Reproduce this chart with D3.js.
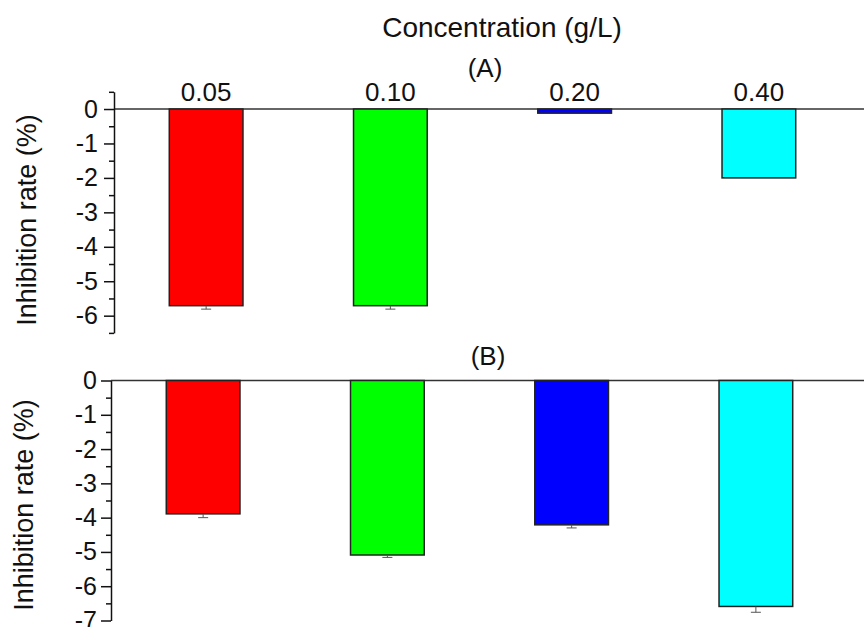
<!DOCTYPE html>
<html>
<head>
<meta charset="utf-8">
<script src="https://cdn.jsdelivr.net/npm/d3@7"></script>
<style>
  body { margin: 0; background: #fff; }
  text { font-family: "Liberation Sans", Arial, sans-serif; fill: #111; }
</style>
</head>
<body>
<script>
// data
var categories = ["0.05", "0.10", "0.20", "0.40"];
var colors = ["#ff0000", "#00ff00", "#0000ff", "#00ffff"];
var valuesA = [-5.71, -5.71, -0.12, -2.0];
var errorsA = [0.1, 0.1, 0.0, 0.0];
var valuesB = [-3.89, -5.09, -4.21, -6.59];
var errorsB = [0.11, 0.07, 0.09, 0.17];
var ticksA = [0, -1, -2, -3, -4, -5, -6];
var minorA = [0.5, -0.5, -1.5, -2.5, -3.5, -4.5, -5.5, -6.5];
var ticksB = [0, -1, -2, -3, -4, -5, -6, -7];
var minorB = [-0.5, -1.5, -2.5, -3.5, -4.5, -5.5, -6.5];

var svgWidth = 868;
var svgHeight = 627;

var svg = d3.select("body")
	.append("svg")
	.attr("width", svgWidth)
	.attr("height", svgHeight);

// title
svg.append("text")
	.attr("x", 502)
	.attr("y", 37)
	.attr("text-anchor", "middle")
	.style("font-size", "28px")
	.text("Concentration (g/L)");

function drawPanel(opts) {
	var x = d3.scaleBand()
		.domain(categories)
		.range([opts.left, opts.right])
		.paddingInner(0.6)
		.paddingOuter(0.3);

	var y = d3.scaleLinear()
		.domain(opts.domain)
		.range(opts.yRange);

	var g = svg.append("g");

	// zero line across the panel
	g.append("line")
		.attr("x1", opts.left)
		.attr("x2", 864)
		.attr("y1", y(0))
		.attr("y2", y(0))
		.attr("stroke", "#333")
		.attr("stroke-width", 1.5);

	// bars
	g.selectAll("rect.bar")
		.data(opts.values)
		.enter()
		.append("rect")
		.attr("class", "bar")
		.attr("x", (d, i) => x(categories[i]))
		.attr("width", x.bandwidth())
		.attr("y", d => Math.min(y(0), y(d)))
		.attr("height", d => Math.abs(y(d) - y(0)))
		.attr("fill", (d, i) => colors[i])
		.attr("stroke", "#222")
		.attr("stroke-width", 1.5);

	// error bars (downward only)
	var eb = g.selectAll("g.err")
		.data(opts.values)
		.enter()
		.append("g")
		.attr("class", "err")
		.filter((d, i) => opts.errors[i] > 0);

	eb.append("line")
		.attr("x1", (d, i) => x(categories[i]) + x.bandwidth() / 2)
		.attr("x2", (d, i) => x(categories[i]) + x.bandwidth() / 2)
		.attr("y1", d => y(d))
		.attr("y2", (d, i) => y(d - opts.errors[i]))
		.attr("stroke", "#555")
		.attr("stroke-width", 1);

	eb.append("line")
		.attr("x1", (d, i) => x(categories[i]) + x.bandwidth() / 2 - 5)
		.attr("x2", (d, i) => x(categories[i]) + x.bandwidth() / 2 + 5)
		.attr("y1", (d, i) => y(d - opts.errors[i]))
		.attr("y2", (d, i) => y(d - opts.errors[i]))
		.attr("stroke", "#555")
		.attr("stroke-width", 1);

	// minor ticks
	g.append("g")
		.attr("transform", `translate(${opts.left}, 0)`)
		.call(d3.axisLeft(y).tickValues(opts.minor).tickSize(5).tickSizeOuter(0).tickFormat(""))
		.call(a => a.select(".domain").attr("stroke", "#111").attr("stroke-width", 1.5))
		.call(a => a.selectAll(".tick line").attr("stroke", "#111").attr("stroke-width", 1.5));

	// major ticks + labels (plain hyphen minus like the original)
	g.append("g")
		.attr("transform", `translate(${opts.left}, 0)`)
		.call(d3.axisLeft(y).tickValues(opts.ticks).tickSize(10).tickSizeOuter(0).tickPadding(opts.pad).tickFormat(d => String(d)))
		.call(a => a.select(".domain").remove())
		.call(a => a.selectAll(".tick line").attr("stroke", "#111").attr("stroke-width", 1.5))
		.call(a => a.selectAll(".tick text")
			.style("font-size", "25px")
			.style("font-family", "'Liberation Sans', Arial, sans-serif")
			.attr("fill", "#111"));

	// panel label
	g.append("text")
		.attr("x", opts.tagX)
		.attr("y", opts.tagY)
		.attr("text-anchor", "middle")
		.style("font-size", "26px")
		.text(opts.tag);

	// y axis title
	g.append("text")
		.attr("transform", `translate(${opts.labelX}, ${opts.labelY}) rotate(-90)`)
		.attr("text-anchor", "middle")
		.style("font-size", "27px")
		.text("Inhibition rate (%)");

	return x;
}

var xA = drawPanel({
	left: 114, right: 851,
	domain: [-6.5, 0.5], yRange: [332.9, 91.8],
	values: valuesA, errors: errorsA,
	ticks: ticksA, minor: minorA, pad: 6,
	tag: "(A)", tagX: 485, tagY: 77,
	labelX: 36, labelY: 220
});

drawPanel({
	left: 111, right: 848,
	domain: [-7, 0], yRange: [620.5, 380.5],
	values: valuesB, errors: errorsB,
	ticks: ticksB, minor: minorB, pad: 4,
	tag: "(B)", tagX: 488, tagY: 365,
	labelX: 33, labelY: 505
});

// concentration labels above panel A
svg.selectAll("text.cat")
	.data(categories)
	.enter()
	.append("text")
	.attr("class", "cat")
	.attr("x", d => xA(d) + xA.bandwidth() / 2)
	.attr("y", 101)
	.attr("text-anchor", "middle")
	.style("font-size", "26px")
	.text(d => d);
</script>
</body>
</html>
